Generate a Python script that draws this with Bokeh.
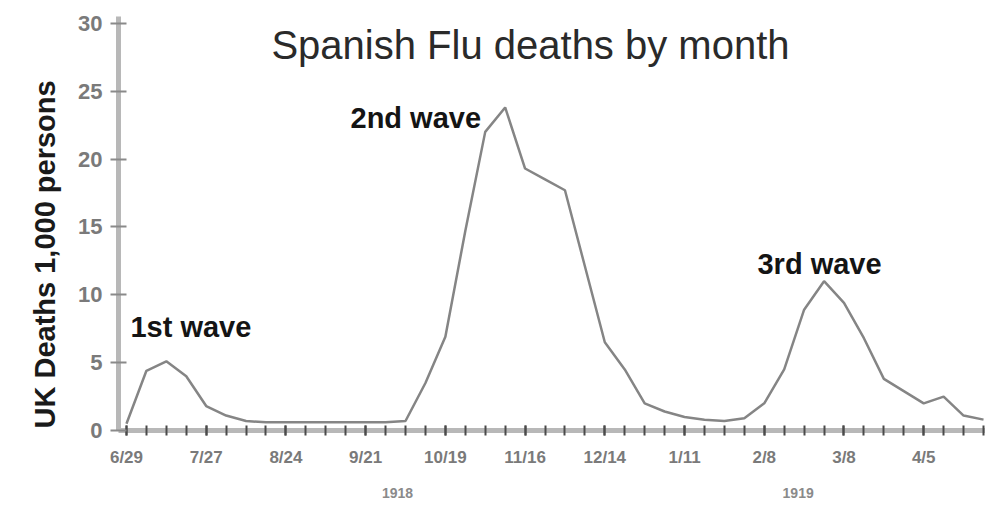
from bokeh.plotting import figure
from bokeh.models import Range1d, FixedTicker, LinearAxis, Title
from bokeh.core.properties import value
from bokeh.embed import file_html
from bokeh.resources import INLINE

# weekly UK deaths (thousands), weeks starting 1918-06-29
deaths = [0.5, 4.4, 5.1, 4.0, 1.8, 1.1, 0.7, 0.6, 0.6, 0.6, 0.6, 0.6, 0.6, 0.6,
          0.7, 3.5, 6.9, 14.7, 22.0, 23.8, 19.3, 18.5, 17.7, 12.1, 6.5, 4.5,
          2.0, 1.4, 1.0, 0.8, 0.7, 0.9, 2.0, 4.5, 8.9, 11.0, 9.4, 6.8, 3.8,
          2.9, 2.0, 2.5, 1.1, 0.8]
weeks = list(range(len(deaths)))
tick_weeks = [0, 4, 8, 12, 16, 20, 24, 28, 32, 36, 40]
tick_labels = ["6/29", "7/27", "8/24", "9/21", "10/19", "11/16", "12/14",
               "1/11", "2/8", "3/8", "4/5"]
year_pos = [13.6, 33.7]
year_labels = ["1918", "1919"]
y_ticks = [0, 5, 10, 15, 20, 25, 30]
y_title = "UK Deaths 1,000 persons"

waves = ["1st wave", "2nd wave", "3rd wave"]
wave_x = [0.2, 11.24, 31.66]
wave_y = [7.6, 23.0, 12.25]

FONT = "Liberation Sans"

p = figure(width=985, height=500, output_backend="svg", toolbar_location=None,
           x_range=Range1d(-0.4, 43.1), y_range=Range1d(0, 30.5),
           min_border_left=118, min_border_right=0, min_border_top=16,
           min_border_bottom=68, background_fill_color="white",
           border_fill_color="white")
p.outline_line_color = None
p.xgrid.visible = False
p.ygrid.visible = False

p.line(weeks, deaths, line_color="#858585", line_width=2.5)

# title inside plot
p.text(x=[20.27], y=[28.4], text=["Spanish Flu deaths by month"],
       text_font=value(FONT), text_font_size="40px", text_color="#2a2a2a",
       text_align="center", text_baseline="middle")
p.text(x=wave_x, y=wave_y, text=waves, text_font=value(FONT),
       text_font_size="29px", text_font_style="bold", text_color="#141414",
       text_align="left", text_baseline="middle")

# y axis
ya = p.yaxis[0]
ya.ticker = FixedTicker(ticks=y_ticks)
ya.axis_line_color = "#b8b8b8"
ya.axis_line_width = 5
ya.major_tick_line_color = "#8a8a8a"
ya.major_tick_line_width = 2
ya.major_tick_in = 8
ya.major_tick_out = 8
ya.minor_tick_line_color = None
ya.major_label_text_font = FONT
ya.major_label_text_font_style = "bold"
ya.major_label_text_font_size = "22px"
ya.major_label_text_color = "#7a7a7a"
ya.major_label_standoff = 8

# y axis title as a left-side title, starting at the bottom of the frame
p.add_layout(Title(text=y_title, align="left", offset=2, standoff=30,
                   text_font=FONT, text_font_style="bold",
                   text_font_size="29px", text_color="#1a1a1a"), "left")

# x axis
xa = p.xaxis[0]
xa.ticker = FixedTicker(ticks=tick_weeks, minor_ticks=weeks)
xa.major_label_overrides = {w: l for w, l in zip(tick_weeks, tick_labels)}
xa.axis_line_color = "#b8b8b8"
xa.axis_line_width = 5
xa.major_tick_line_color = "#4a4a4a"
xa.major_tick_line_width = 2
xa.major_tick_in = 5
xa.major_tick_out = 5
xa.minor_tick_line_color = "#4a4a4a"
xa.minor_tick_line_width = 2
xa.minor_tick_in = 5
xa.minor_tick_out = 5
xa.major_label_text_font = FONT
xa.major_label_text_font_style = "bold"
xa.major_label_text_font_size = "17px"
xa.major_label_text_color = "#7a7a7a"
xa.major_label_standoff = 12

# year axis below
yr = LinearAxis(ticker=FixedTicker(ticks=year_pos),
                major_label_overrides={v: l for v, l in zip(year_pos, year_labels)})
yr.axis_line_color = None
yr.major_tick_line_color = None
yr.minor_tick_line_color = None
yr.major_label_text_font = FONT
yr.major_label_text_font_style = "bold"
yr.major_label_text_font_size = "14px"
yr.major_label_text_color = "#8a8a8a"
yr.major_label_standoff = 12
p.add_layout(yr, "below")

open("out.html", "w").write(file_html(p, INLINE))
